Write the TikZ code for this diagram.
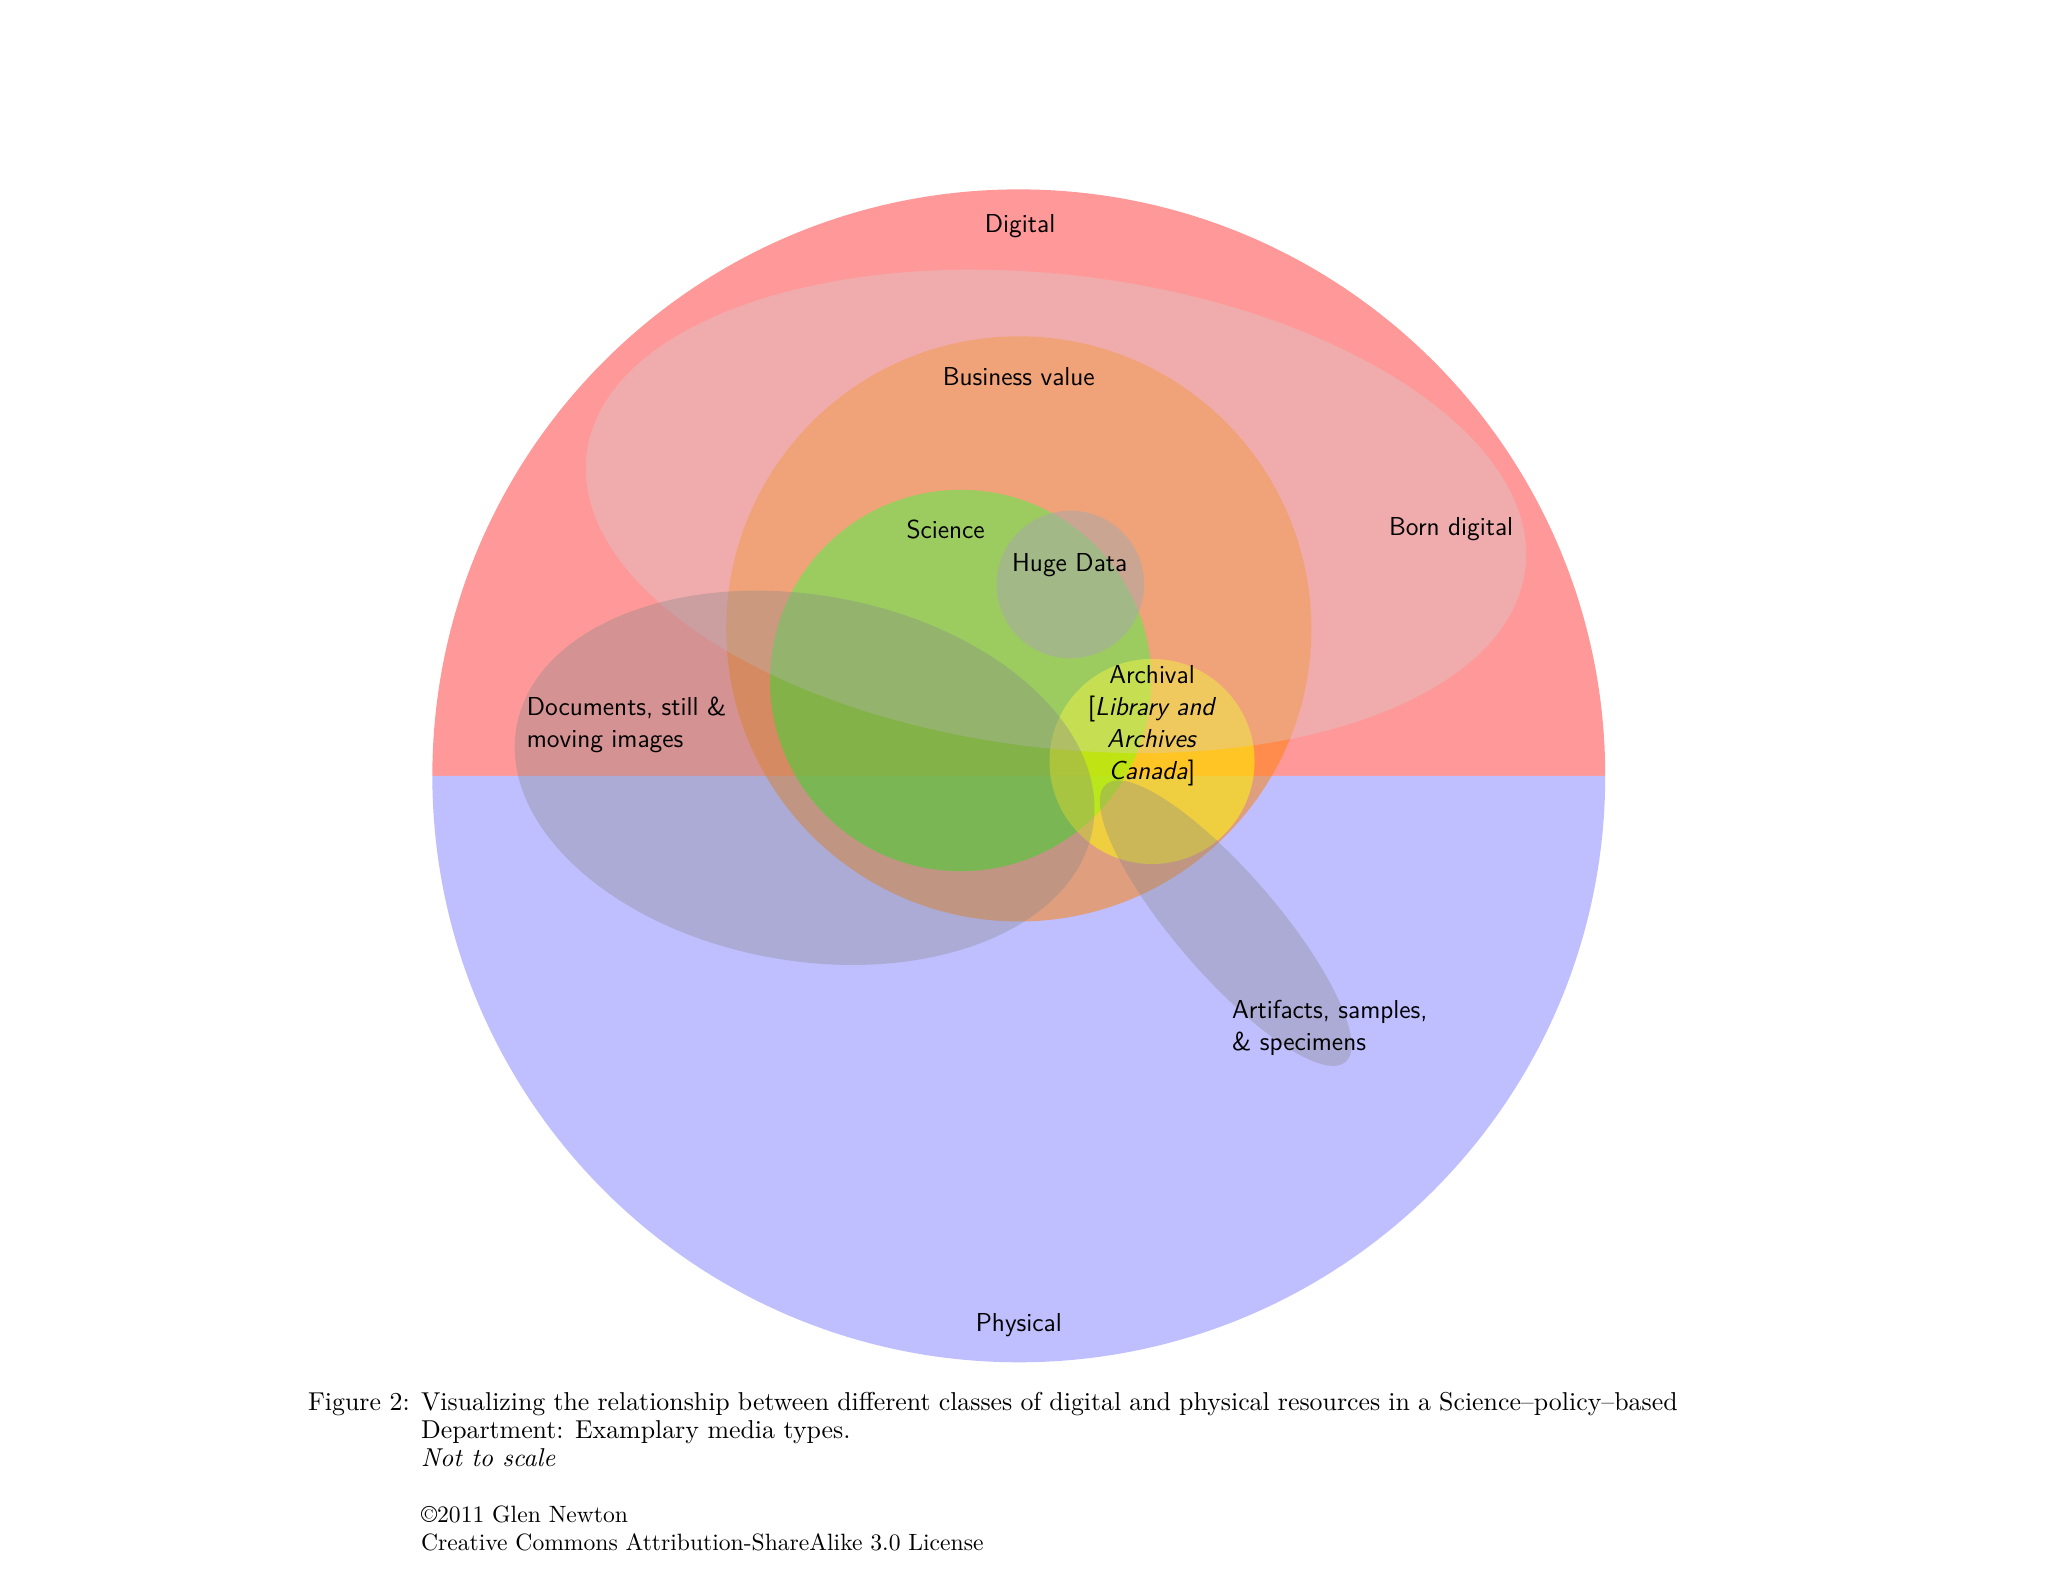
\documentclass[tikz,border=0pt]{standalone}
\definecolor{redtop}{RGB}{255,153,153}
\definecolor{bluebot}{RGB}{191,191,255}
\definecolor{bizc}{RGB}{255,128,0}
\definecolor{scic}{RGB}{63,234,20}
\definecolor{archc}{RGB}{255,255,0}
\definecolor{hugec}{RGB}{148,148,148}
\definecolor{bornc}{RGB}{210,210,210}
\definecolor{docc}{RGB}{135,135,138}
\begin{document}
\begin{tikzpicture}[x=0.5535pt,y=0.5535pt,
  lbl/.style={font=\fontsize{11}{13.6}\selectfont\sffamily, inner sep=0pt, text=black},
  capt/.style={font=\fontsize{10.95}{12}\selectfont, inner sep=0pt, anchor=base west},
  captsmall/.style={font=\fontsize{10}{12}\selectfont, inner sep=0pt, anchor=base west},
  bizfill/.style={fill=bizc, fill opacity=0.5},
  scifill/.style={fill=scic, fill opacity=0.65},
  archfill/.style={fill=archc, fill opacity=0.5},
  hugefill/.style={fill=hugec, fill opacity=0.53},
  bornfill/.style={fill=bornc, fill opacity=0.333},
  docfill/.style={fill=docc, fill opacity=0.344}]
\useasboundingbox (0,0) rectangle (1568,-1211);
\fill[white] (0,0) rectangle (1568,-1211);
\coordinate (O) at (780,-594);
% halves
\fill[redtop] (O) ++(-449,0) arc[start angle=180,end angle=0,radius=449] -- cycle;
\fill[bluebot] (O) ++(-449,0) arc[start angle=180,end angle=360,radius=449] -- cycle;
% business value
\fill[bizfill] (780,-481.5) circle[radius=224];
% science
\fill[scifill] (735.5,-521) circle[radius=146];
% archival
\fill[archfill] (882,-583) circle[radius=78.5];
% huge data
\fill[hugefill] (819.5,-447.5) circle[radius=56.5];
% born digital
\fill[bornfill, rotate around={-7:(808.5,-391.5)}] (808.5,-391.5) ellipse[x radius=362,y radius=181];
% documents
\fill[docfill, rotate around={-10:(616,-595.5)}] (616,-595.5) ellipse[x radius=224,y radius=140];
% artifacts
\fill[docfill, rotate around={-49.2:(938.4,-706.8)}] (938.4,-706.8) ellipse[x radius=140.4,y radius=39];
% labels
\node[lbl] (digital) at (781,-173.5) {Digital};
\node[lbl] (business) at (780,-288.5) {Business value};
\node[lbl] (born) at (1111,-405.5) {Born digital};
\node[lbl] (science) at (724,-405.5) {Science};
\node[lbl] (huge) at (819,-432.5) {Huge Data};
\node[lbl, align=center] (arch) at (882,-555.5) {Archival\\ {[}\textit{Library and}\\ \textit{Archives}\\ \textit{Canada}]};
\node[lbl, align=left, anchor=west] (docs) at (403,-555) {Documents, still \&\\ moving images};
\node[lbl, align=left, anchor=west] (artif) at (943,-787) {Artifacts, samples,\\ \& specimens};
\node[lbl] (physical) at (780,-1014.5) {Physical};
% caption
\node[capt] (figlbl) at (235.5,-1080) {Figure 2:};
\node[capt] (cap1) at (322,-1080) {\hbox to 532.5pt{Visualizing the relationship between different classes of digital and physical resources in a Science--policy--based}};
\node[capt] (cap2) at (322,-1101.3) {Department: Examplary media types.};
\node[capt] (cap3) at (322,-1122.6) {\textit{Not to scale}};
\node[captsmall] (cap4) at (322,-1165.9) {\copyright2011 Glen Newton};
\node[captsmall] (cap5) at (322,-1187.3) {Creative Commons Attribution-ShareAlike 3.0 License};
\end{tikzpicture}
\end{document}
